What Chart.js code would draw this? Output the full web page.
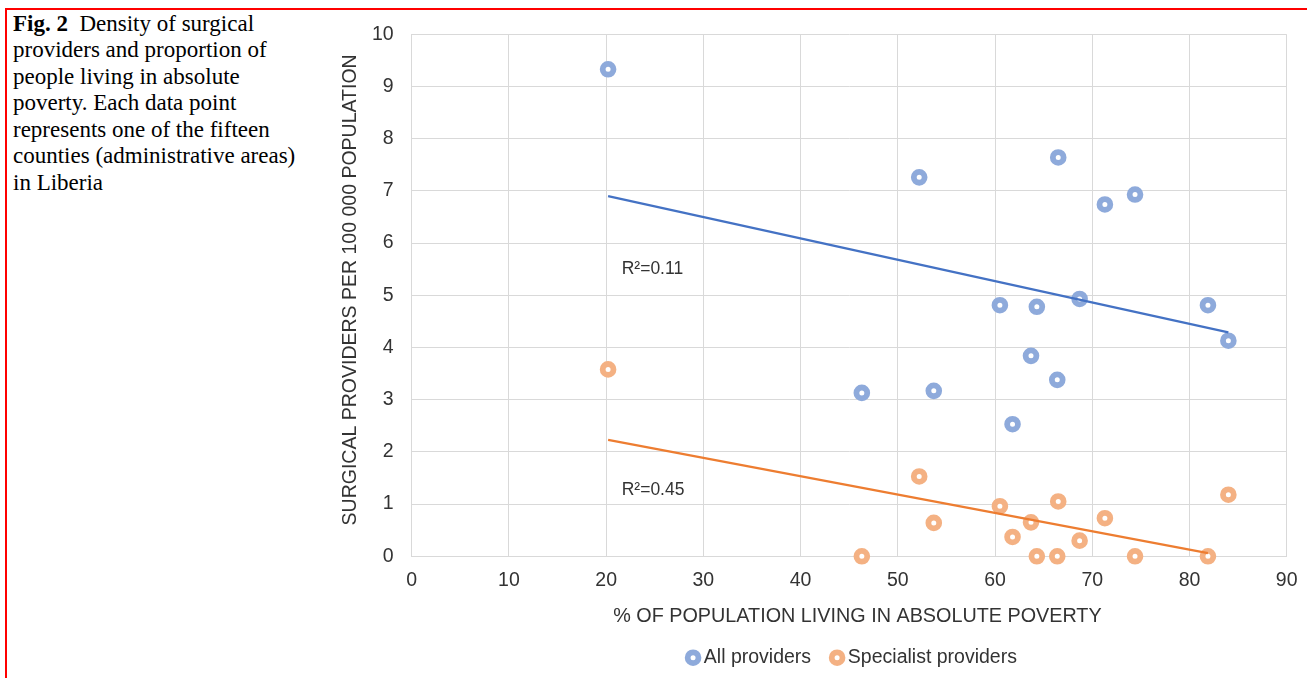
<!DOCTYPE html>
<html>
<head>
<meta charset="utf-8">
<script src="https://cdn.jsdelivr.net/npm/chart.js@4.4.0/dist/chart.umd.min.js"></script>
<style>
html,body{margin:0;padding:0;width:1307px;height:678px;overflow:hidden;background:#fff;}
#frame{position:absolute;left:5px;top:8px;width:1302px;height:670px;border-left:2px solid #f00;border-top:2px solid #f00;box-sizing:border-box;}
#caption{position:absolute;left:13px;top:10.5px;font-family:"Liberation Serif","Times New Roman",serif;font-size:23px;line-height:26.6px;color:#000;white-space:nowrap;}
#wrap{position:absolute;left:330px;top:0;width:1049px;height:678px;}
</style>
</head>
<body>
<div id="frame"></div>
<div id="caption"><b>Fig. 2</b>&nbsp; Density of surgical<br>providers and proportion of<br>people living in absolute<br>poverty. Each data point<br>represents one of the fifteen<br>counties (administrative areas)<br>in Liberia</div>
<div id="wrap"><canvas id="c"></canvas></div>
<script>
// % of population living in absolute poverty, one per county
const povertyPct = [20.2, 46.3, 52.2, 53.7, 60.5, 61.8, 63.7, 64.3, 66.4, 66.5, 68.7, 71.3, 74.4, 81.9, 84.0];
// Surgical providers per 100 000 population
const allProviders = [9.33, 3.13, 7.26, 3.17, 4.81, 2.53, 3.84, 4.78, 3.38, 7.64, 4.93, 6.74, 6.93, 4.81, 4.13];
const specialistProviders = [3.58, 0, 1.53, 0.64, 0.96, 0.37, 0.65, 0, 0, 1.05, 0.30, 0.73, 0, 0, 1.18];
// Linear trend lines (end points)
const trendAllX = [20.2, 84.0];
const trendAllY = [6.90, 4.29];
const trendSpecX = [20.2, 81.9];
const trendSpecY = [2.23, 0.06];
// R² annotations
const r2Text = ['R\u00B2=0.11', 'R\u00B2=0.45'];
const r2X = [21.6, 21.6];
const r2Y = [5.50, 1.27];
const seriesNames = ['All providers', 'Specialist providers'];
const xTicks = [0, 10, 20, 30, 40, 50, 60, 70, 80, 90];
const yTicks = [0, 1, 2, 3, 4, 5, 6, 7, 8, 9, 10];
const xTitle = '% OF POPULATION LIVING IN ABSOLUTE POVERTY';
const yTitle = 'SURGICAL PROVIDERS PER 100 000 POPULATION';

const FONT = '"Liberation Sans", Arial, sans-serif';
Chart.defaults.font.family = FONT;
Chart.defaults.color = '#333';

const toPts = (xs, ys) => xs.map((x, i) => ({x: x, y: ys[i]}));
const NB = '\u00A0';

const r2Plugin = {
  id: 'r2',
  afterDatasetsDraw(chart) {
    const {ctx, scales: {x, y}} = chart;
    ctx.save();
    ctx.font = '17.5px ' + FONT;
    ctx.fillStyle = '#333';
    ctx.textAlign = 'left';
    ctx.textBaseline = 'middle';
    r2Text.forEach((t, i) => ctx.fillText(t, x.getPixelForValue(r2X[i]), y.getPixelForValue(r2Y[i])));
    ctx.restore();
  }
};

const ptStyle = (col) => ({
  pointStyle: 'circle', pointRadius: 5.4, pointHoverRadius: 5.4, pointBorderWidth: 5.8, pointHoverBorderWidth: 5.8,
  pointBackgroundColor: '#fff', pointBorderColor: col, backgroundColor: '#fff', borderColor: col, clip: false
});

new Chart(document.getElementById('c'), {
  type: 'scatter',
  data: {
    datasets: [
      {type: 'line', label: 'trendAll', data: toPts(trendAllX, trendAllY), borderColor: '#4472c4', borderWidth: 2.2, pointRadius: 0, fill: false},
      {type: 'line', label: 'trendSpec', data: toPts(trendSpecX, trendSpecY), borderColor: '#ed7d31', borderWidth: 2.2, pointRadius: 0, fill: false},
      Object.assign({label: seriesNames[0], data: toPts(povertyPct, allProviders)}, ptStyle('#8eaadb')),
      Object.assign({label: seriesNames[1], data: toPts(povertyPct, specialistProviders)}, ptStyle('#f4b183'))
    ]
  },
  options: {
    responsive: true,
    maintainAspectRatio: false,
    animation: false,
    devicePixelRatio: 1,
    layout: {padding: {top: 34.3, bottom: 0.55, left: 0, right: 0}},
    plugins: {
      tooltip: {enabled: false},
      legend: {
        position: 'bottom',
        labels: {
          filter: (item) => item.datasetIndex >= 2,
          usePointStyle: true, boxWidth: 2, boxHeight: 7.64, padding: 25,
          color: '#333', font: {size: 19.5}
        }
      }
    },
    scales: {
      x: {
        type: 'linear', min: 0, max: 90,
        afterBuildTicks: (s) => { s.ticks = xTicks.map(v => ({value: v})); },
        ticks: {padding: 13, color: '#333', font: {size: 19.5}},
        grid: {color: '#d9d9d9', lineWidth: 1, drawTicks: false},
        border: {color: '#d9d9d9'},
        title: {display: true, text: NB + NB + NB + xTitle, color: '#333', font: {size: 19.8}, padding: {top: 0, bottom: -5.75}},
        afterFit: (s) => { s.height = 66.65; }
      },
      y: {
        type: 'linear', position: 'left', min: 0, max: 10,
        afterBuildTicks: (s) => { s.ticks = yTicks.map(v => ({value: v})); },
        ticks: {padding: 18, color: '#333', font: {size: 19.5}},
        grid: {color: '#d9d9d9', lineWidth: 1, drawTicks: false},
        border: {color: '#d9d9d9'},
        title: {display: true, text: NB + NB + yTitle, color: '#333', font: {size: 19.5}, padding: {top: 9.3, bottom: 0}},
        afterFit: (s) => { s.width = 81.7; }
      },
      yRight: {
        type: 'linear', position: 'right', display: true,
        grid: {display: false, drawOnChartArea: false, drawTicks: false},
        border: {display: false},
        ticks: {display: false},
        afterFit: (s) => { s.width = 92.3; }
      }
    }
  },
  plugins: [r2Plugin]
});
</script>
</body>
</html>
